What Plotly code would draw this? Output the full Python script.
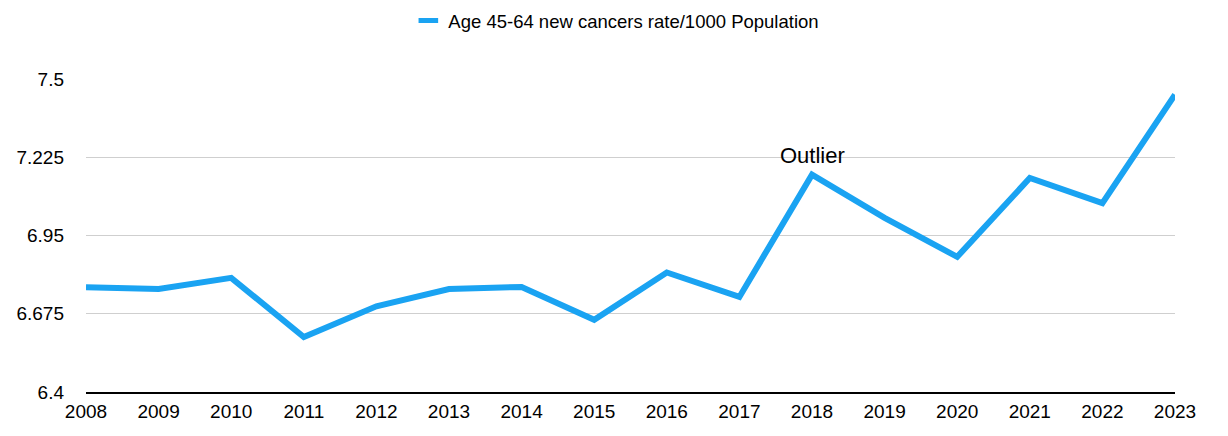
import plotly.graph_objects as go

years = [2008, 2009, 2010, 2011, 2012, 2013, 2014, 2015, 2016, 2017, 2018, 2019, 2020, 2021, 2022, 2023]
rates = [6.768, 6.762, 6.801, 6.593, 6.701, 6.762, 6.769, 6.654, 6.820, 6.734, 7.164, 7.012, 6.875, 7.152, 7.064, 7.445]
series_name = "Age 45-64 new cancers rate/1000 Population"
y_ticks = [6.4, 6.675, 6.95, 7.225, 7.5]
y_tick_labels = ["6.4", "6.675", "6.95", "7.225", "7.5"]
annotation_year = 2018
annotation_text = "Outlier"

BLUE = "#1AA3F2"
FONT = "Liberation Sans, Arial, Helvetica, sans-serif"

fig = go.Figure()
fig.add_trace(go.Scatter(
    x=years, y=rates, mode="lines", name=series_name,
    line=dict(color=BLUE, width=6), showlegend=False, hoverinfo="x+y",
))
fig.add_trace(go.Scatter(
    x=[None], y=[None], mode="markers", name=series_name,
    marker=dict(symbol="line-ew", size=14, line=dict(width=5, color=BLUE)),
    showlegend=True,
))

ann_y = rates[years.index(annotation_year)]
fig.add_annotation(
    x=annotation_year, y=ann_y, text=annotation_text, showarrow=False,
    yshift=19, font=dict(size=22, color="#000000", family=FONT),
)

fig.update_layout(
    width=1228, height=436,
    margin=dict(l=78, r=61, t=71, b=52, autoexpand=False),
    paper_bgcolor="white", plot_bgcolor="white",
    font=dict(family=FONT, size=19, color="#000000"),
    legend=dict(
        orientation="h", x=0.487, xanchor="center", y=1 - 13 / 436, yref="container", yanchor="middle",
        font=dict(size=18.5, family=FONT, color="#000000"), itemwidth=30,
        bgcolor="rgba(0,0,0,0)",
    ),
    showlegend=True,
)
fig.update_xaxes(
    range=[2008, 2023], tickvals=years, ticktext=[str(y) for y in years],
    showgrid=False, zeroline=False, showline=True, linecolor="#000000", linewidth=2,
    ticks="", tickfont=dict(size=19, family=FONT), ticklabelstandoff=1,
)
fig.update_yaxes(
    range=[6.4, 7.5], tickvals=y_ticks, ticktext=y_tick_labels,
    showgrid=True, gridcolor="#cfcfcf", gridwidth=1, zeroline=False, showline=False,
    ticks="", tickfont=dict(size=19, family=FONT), ticklabelstandoff=21,
)

fig.write_html("out.html")
